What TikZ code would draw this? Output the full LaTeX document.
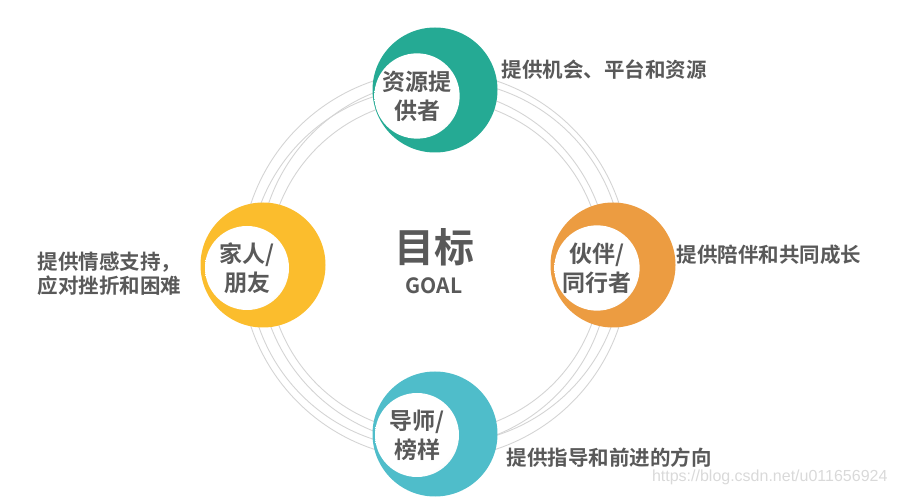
\documentclass[tikz,border=0pt]{standalone}
\usepackage{fontspec}
\setmainfont{Liberation Sans}
\newfontfamily\cjk{Noto Sans CJK SC}[BoldFont={Noto Sans CJK SC Bold}]
\usetikzlibrary{positioning}
\definecolor{txtgray}{HTML}{595959}
\definecolor{resteal}{HTML}{25AA94}
\definecolor{partorange}{HTML}{EC9C41}
\definecolor{mentorcyan}{HTML}{4FBDCA}
\definecolor{familyyellow}{HTML}{FBBD2D}
\pgfdeclareradialshading{discshade}{\pgfpoint{-10bp}{10bp}}{%
  color(0bp)=(white); color(30bp)=(white); color(48bp)=(black!13); color(64bp)=(black!13)}
\tikzset{
  ring/.style={draw=black!17, line width=0.9pt},
  outerdisc/.style={circle, fill=#1, minimum size=125pt, inner sep=0pt},
  innerdisc/.style={circle, shading=discshade,
    minimum size=84pt, inner sep=0pt, align=center, text=txtgray,
    font=\cjk\bfseries\fontsize{23}{29}\selectfont},
  desc/.style={anchor=west, align=left, text=txtgray,
    font=\cjk\bfseries\fontsize{20.5}{24}\selectfont},
}
\begin{document}
\begin{tikzpicture}[x=1pt,y=-1pt]
  \useasboundingbox (0,0) rectangle (900,502);
  % gray rings behind the discs
  \draw[ring] (435,265) circle (194pt);
  \draw[ring] (441,262) circle (182pt);
  \draw[ring] (429,268) circle (180pt);
  \draw[ring] (435,266) circle (167pt);
  % the four roles
  \node[outerdisc=resteal] (res) at (435,90) {};
  \node[innerdisc] (resin) at (417,96) {资源提\\供者};
  \node[outerdisc=partorange] (part) at (613,265) {};
  \node[innerdisc] (partin) at (597,268) {伙伴/\\同行者};
  \node[outerdisc=mentorcyan] (mentor) at (435,434) {};
  \node[innerdisc] (mentorin) at (417,435) {导师/\\榜样};
  \node[outerdisc=familyyellow] (family) at (263,265) {};
  \node[innerdisc] (familyin) at (247,268) {家人/\\朋友};
  % goal in the middle
  \node[text=txtgray, font=\cjk\bfseries\fontsize{40}{40}\selectfont] (goal) at (434,247) {目标};
  \node[text=txtgray, font=\cjk\bfseries\fontsize{21}{21}\selectfont] (goalen) at (434,286) {GOAL};
  % descriptions
  \node[desc] (resdesc) at (498,70) {提供机会、平台和资源};
  \node[desc] (partdesc) at (673,255) {提供陪伴和共同成长};
  \node[desc] (mentordesc) at (503,458) {提供指导和前进的方向};
  \node[desc] (familydesc) at (34,274) {提供情感支持，\\应对挫折和困难};
  \node[anchor=east, text=black!15, font=\fontsize{16}{16}\selectfont] (mark) at (891,477) {https://blog.csdn.net/u011656924};
\end{tikzpicture}
\end{document}
